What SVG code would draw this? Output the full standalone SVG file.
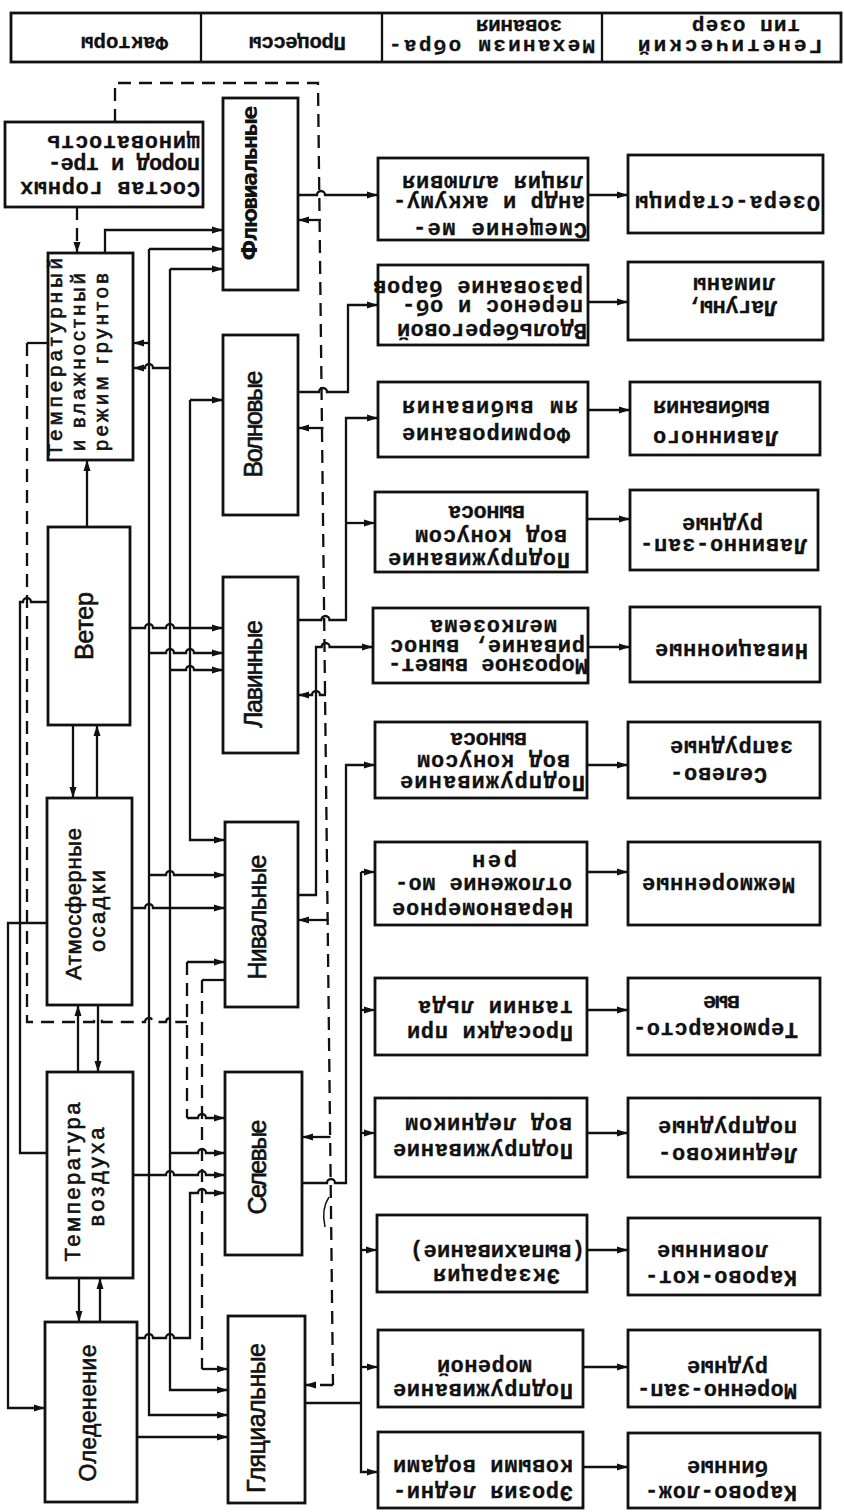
<svg xmlns="http://www.w3.org/2000/svg" width="844" height="1512" viewBox="0 0 844 1512">
<defs>
<marker id="ar" markerUnits="userSpaceOnUse" markerWidth="12" markerHeight="10" refX="11" refY="5" orient="auto">
<path d="M0,1.5 L11,5 L0,8.5 z" fill="#111"/>
</marker>
<style>
.b{fill:#fff;stroke:#111;stroke-width:2.8}
.l{fill:none;stroke:#111;stroke-width:2.3}
.a{fill:none;stroke:#111;stroke-width:2.3;marker-end:url(#ar)}
.d{fill:none;stroke:#111;stroke-width:2.3;stroke-dasharray:13 8}
.da{fill:none;stroke:#111;stroke-width:2.3;stroke-dasharray:13 8;marker-end:url(#ar)}
.t{font-family:"Liberation Mono","DejaVu Sans Mono",monospace;font-size:22px;font-weight:bold;fill:#111;stroke:#111;stroke-width:0.3}
.h{font-size:21px}
.v{font-family:"Liberation Sans","DejaVu Sans",sans-serif;fill:#111;stroke:#111;stroke-width:0.6;text-anchor:middle}
.vb{font-family:"DejaVu Sans","Liberation Sans",sans-serif;font-weight:bold;fill:#111;text-anchor:middle}
</style>
</defs>
<rect width="844" height="1512" fill="#fff"/>

<g id="header">
<rect x="11" y="13" width="830" height="49" class="b"/>
<path class="l" d="M201,13 V62 M382,13 V62 M602,13 V62"/>
<text class="t h" textLength="87" transform="translate(168,36.5) rotate(180)">Факторы</text>
<text class="t h" textLength="97" transform="translate(346,36.5) rotate(180)">Процессы</text>
<text class="t h" textLength="206" transform="translate(595,39.5) rotate(180)">Механизм обра-</text>
<text class="t h" textLength="86" transform="translate(562,20.4) rotate(180)">зования</text>
<text class="t h" textLength="184" transform="translate(822,39.5) rotate(180)">Генетический</text>
<text class="t h" textLength="108" transform="translate(800,20.4) rotate(180)">тип озер</text>
</g>

<g id="connectors">
<!-- factor column -->
<path class="a" d="M87,527 V460"/>
<path class="a" d="M73,725 V798"/>
<path class="a" d="M97,798 V725"/>
<path class="a" d="M78,1072 V1005"/>
<path class="a" d="M98,1005 V1072"/>
<path class="a" d="M79,1278 V1322"/>
<path class="a" d="M100,1322 V1278"/>
<path class="a" d="M105,253 V230 H223"/>
<path class="a" d="M47,923 H8 V1408 H45"/>
<path class="l" d="M47,1153 H20 V602 H23 a4,4 0 0 1 8,0 H48"/>
<!-- bus A: air temperature -->
<path class="a" d="M149,249 V1415 H228"/>
<path class="a" d="M149,249 H223"/>
<path class="a" d="M149,343 H133"/>
<path class="a" d="M149,653 H166 a4,4 0 0 1 8,0 H186 a4,4 0 0 1 8,0 H223"/>
<path class="a" d="M149,875 H166 a4,4 0 0 1 8,0 H225"/>
<path class="a" d="M133,1175 H166 a4,4 0 0 1 8,0 H198 a4,4 0 0 1 8,0 H225"/>
<!-- bus B: precipitation -->
<path class="a" d="M170,269 V1390 H228"/>
<path class="a" d="M170,269 H223"/>
<path class="a" d="M170,368 H153 a4,4 0 0 0 -8,0 H133"/>
<path class="a" d="M170,670 H186 a4,4 0 0 1 8,0 H223"/>
<path class="a" d="M132,908 H145 a4,4 0 0 1 8,0 H225"/>
<path class="a" d="M170,1153 H198 a4,4 0 0 1 8,0 H225"/>
<!-- bus C: wind -->
<path class="a" d="M190,400 V840 H225"/>
<path class="a" d="M190,400 H223"/>
<path class="a" d="M130,628 H145 a4,4 0 0 1 8,0 H166 a4,4 0 0 1 8,0 H223"/>
<!-- glaciation -->
<path class="a" d="M137,1338 H145 a4,4 0 0 1 8,0 H166 a4,4 0 0 1 8,0 H190 V1193 H198 a4,4 0 0 1 8,0 H225"/>
<path class="a" d="M137,1437 H228"/>
<!-- dashed: rock composition -->
<path class="da" d="M77,207 V253"/>
<path class="d" d="M115,122 V83 H318 L333,1385"/>
<path class="da" d="M333,1385 H305"/>
<path class="a" d="M321,220 H298"/>
<path class="a" d="M323.5,428 H298"/>
<path class="a" d="M326,695 H320 a4,4 0 0 0 -8,0 H298"/>
<path class="a" d="M328.4,920 H298"/>
<path class="a" d="M330.5,1137 H302"/>
<!-- dashed: soil regime -->
<path class="l" d="M48,343 H27"/>
<path class="d" d="M27,343 V1022 H94 a4,4 0 0 1 8,0 H145 a4,4 0 0 1 8,0 H166 a4,4 0 0 1 8,0 H187"/>
<path class="d" d="M187,962 V1118"/>
<path class="a" d="M187,962 H225"/>
<path class="a" d="M187,1118 H198 a4,4 0 0 1 8,0 H225"/>
<!-- dashed: nival to glacial -->
<path class="l" d="M225,980 H202"/>
<path class="d" d="M202,980 V1369"/>
<path class="a" d="M202,1369 H228"/>
<!-- process outputs -->
<path class="a" d="M298,195 H317 a4,4 0 0 1 8,0 H378"/>
<path class="a" d="M298,392 H319 a4,4 0 0 1 8,0 H348 V305 H378"/>
<path class="a" d="M298,620 H321.4 a4,4 0 0 1 8,0 H346 V418 H378"/>
<path class="a" d="M346,523 H375"/>
<path class="a" d="M298,895 H316 V647 H321.6 a4,4 0 0 1 8,0 H373"/>
<path class="a" d="M302,1183 H327 a4,4 0 0 1 8,0 H346 V765 H375"/>
<path class="l" d="M305,1403 H361"/>
<path class="a" d="M361,872 V1472 H378"/>
<path class="a" d="M361,872 H375"/>
<path class="a" d="M361,1010 H375"/>
<path class="a" d="M361,1133 H375"/>
<path class="a" d="M361,1250 H377"/>
<path class="a" d="M361,1367 H378"/>
<path fill="none" stroke="#111" stroke-width="1.5" d="M329,1197 q-8,12 -4,30"/>
<!-- mechanism to type -->
<path class="a" d="M588,195 H628"/>
<path class="a" d="M588,302 H628"/>
<path class="a" d="M588,410 H630"/>
<path class="a" d="M587,519 H630"/>
<path class="a" d="M588,647 H630"/>
<path class="a" d="M587,765 H628"/>
<path class="a" d="M587,872 H628"/>
<path class="a" d="M587,1010 H628"/>
<path class="a" d="M587,1133 H628"/>
<path class="a" d="M587,1250 H628"/>
<path class="a" d="M583,1367 H628"/>
<path class="a" d="M583,1467 H628"/>
</g>

<!-- factors -->
<g id="f-sostav">
<rect x="5" y="122" width="198" height="85" class="b"/>
<text class="t" textLength="153" transform="translate(200,136) rotate(180)">щиноватость</text>
<text class="t" textLength="152" transform="translate(200,158) rotate(180)">пород и тре-</text>
<text class="t" textLength="180" transform="translate(200,182) rotate(180)">Состав горных</text>
</g>
<g id="f-temp-soil">
<rect x="48" y="253" width="85" height="207" class="b"/>
<text class="v" font-size="20" textLength="198" transform="translate(62,357) rotate(-90)">Температурный</text>
<text class="v" font-size="20" textLength="178" transform="translate(85,362) rotate(-90)">и влажностный</text>
<text class="v" font-size="20" textLength="178" transform="translate(108,362) rotate(-90)">режим грунтов</text>
</g>
<g id="f-veter">
<rect x="48" y="527" width="82" height="198" class="b"/>
<text class="v" font-size="25" textLength="68" transform="translate(93,626) rotate(-90)">Ветер</text>
</g>
<g id="f-osadki">
<rect x="47" y="798" width="85" height="207" class="b"/>
<text class="v" font-size="22" textLength="152" transform="translate(81,904) rotate(-90)">Атмосферные</text>
<text class="v" font-size="22" textLength="82" transform="translate(105,911) rotate(-90)">осадки</text>
</g>
<g id="f-temp-air">
<rect x="47" y="1072" width="86" height="206" class="b"/>
<text class="v" font-size="22" textLength="159" transform="translate(80,1182) rotate(-90)">Температура</text>
<text class="v" font-size="22" textLength="99" transform="translate(104,1177) rotate(-90)">воздуха</text>
</g>
<g id="f-oled">
<rect x="45" y="1322" width="92" height="180" class="b"/>
<text class="v" font-size="23" textLength="137" transform="translate(96,1413) rotate(-90)">Оледенение</text>
</g>

<!-- processes -->
<g id="p-fluv">
<rect x="223" y="98" width="75" height="192" class="b"/>
<text class="vb" font-size="21" textLength="155" transform="translate(257,183) rotate(-90)">Флювиальные</text>
</g>
<g id="p-voln">
<rect x="223" y="335" width="75" height="180" class="b"/>
<text class="v" font-size="25" textLength="107" transform="translate(262,424) rotate(-90)">Волновые</text>
</g>
<g id="p-lav">
<rect x="223" y="577" width="75" height="176" class="b"/>
<text class="v" font-size="25" textLength="108" transform="translate(262,674) rotate(-90)">Лавинные</text>
</g>
<g id="p-niv">
<rect x="225" y="822" width="73" height="185" class="b"/>
<text class="v" font-size="25" textLength="125" transform="translate(266,917) rotate(-90)">Нивальные</text>
</g>
<g id="p-sel">
<rect x="225" y="1072" width="77" height="183" class="b"/>
<text class="v" font-size="25" textLength="95" transform="translate(266,1167) rotate(-90)">Селевые</text>
</g>
<g id="p-glac">
<rect x="228" y="1316" width="77" height="187" class="b"/>
<text class="v" font-size="25" textLength="150" transform="translate(265,1418) rotate(-90)">Гляциальные</text>
</g>

<!-- mechanisms -->
<g id="m1">
<rect x="378" y="158" width="210" height="82" class="b"/>
<text class="t" textLength="181" transform="translate(583,176.4) rotate(180)">ляция аллювия</text>
<text class="t" textLength="192" transform="translate(585,196.4) rotate(180)">андр и аккуму-</text>
<text class="t" textLength="174" transform="translate(587,222.5) rotate(180)">Смещение ме-</text>
</g>
<g id="m2">
<rect x="378" y="265" width="210" height="80" class="b"/>
<text class="t" textLength="210" transform="translate(583,281.4) rotate(180)">разование баров</text>
<text class="t" textLength="181" transform="translate(583,300.4) rotate(180)">перенос и об-</text>
<text class="t" textLength="190" transform="translate(587,323.5) rotate(180)">Вдольбереговой</text>
</g>
<g id="m3">
<rect x="378" y="382" width="210" height="75" class="b"/>
<text class="t" textLength="176" transform="translate(578,401.4) rotate(180)">ям выбивания</text>
<text class="t" textLength="168" transform="translate(570,427.5) rotate(180)">Формирование</text>
</g>
<g id="m4">
<rect x="375" y="492" width="212" height="80" class="b"/>
<text class="t" textLength="77" transform="translate(525,506.4) rotate(180)">выноса</text>
<text class="t" textLength="152" transform="translate(567,530.4) rotate(180)">вод конусом</text>
<text class="t" textLength="182" transform="translate(570,552.5) rotate(180)">Подпруживание</text>
</g>
<g id="m5">
<rect x="373" y="608" width="215" height="75" class="b"/>
<text class="t" textLength="127" transform="translate(557,620.4) rotate(180)">мелкозема</text>
<text class="t" textLength="195" transform="translate(585,640.4) rotate(180)">ривание, вынос</text>
<text class="t" textLength="200" transform="translate(588,658.5) rotate(180)">Морозное вывет-</text>
</g>
<g id="m6">
<rect x="375" y="722" width="212" height="76" class="b"/>
<text class="t" textLength="77" transform="translate(527,733.4) rotate(180)">выноса</text>
<text class="t" textLength="153" transform="translate(570,755.4) rotate(180)">вод конусом</text>
<text class="t" textLength="185" transform="translate(585,775.5) rotate(180)">Подпруживание</text>
</g>
<g id="m7">
<rect x="375" y="842" width="212" height="83" class="b"/>
<text class="t" textLength="45" transform="translate(517,855.4) rotate(180)">рен</text>
<text class="t" textLength="177" transform="translate(572,878.4) rotate(180)">отложение мо-</text>
<text class="t" textLength="181" transform="translate(573,902.5) rotate(180)">Неравномерное</text>
</g>
<g id="m8">
<rect x="375" y="978" width="212" height="77" class="b"/>
<text class="t" textLength="155" transform="translate(573,1001.4) rotate(180)">таянии льда</text>
<text class="t" textLength="166" transform="translate(573,1025.5) rotate(180)">Просадки при</text>
</g>
<g id="m9">
<rect x="375" y="1098" width="212" height="79" class="b"/>
<text class="t" textLength="167" transform="translate(572,1118.4) rotate(180)">вод ледником</text>
<text class="t" textLength="180" transform="translate(573,1143.5) rotate(180)">Подпруживание</text>
</g>
<g id="m10">
<rect x="377" y="1215" width="210" height="77" class="b"/>
<text class="t" textLength="175" transform="translate(585,1245.4) rotate(180)">(выпахивание)</text>
<text class="t" textLength="127" transform="translate(560,1268.5) rotate(180)">Экзарация</text>
</g>
<g id="m11">
<rect x="378" y="1330" width="205" height="77" class="b"/>
<text class="t" textLength="95" transform="translate(532,1360.4) rotate(180)">мореной</text>
<text class="t" textLength="180" transform="translate(573,1383.5) rotate(180)">Подпруживание</text>
</g>
<g id="m12">
<rect x="378" y="1432" width="205" height="76" class="b"/>
<text class="t" textLength="180" transform="translate(573,1460.4) rotate(180)">ковыми водами</text>
<text class="t" textLength="180" transform="translate(573,1485.5) rotate(180)">Эрозия ледни-</text>
</g>

<!-- genetic types -->
<g id="t1">
<rect x="628" y="155" width="195" height="78" class="b"/>
<text class="t" textLength="185" transform="translate(820,195.5) rotate(180)">Озера-старицы</text>
</g>
<g id="t2">
<rect x="628" y="262" width="195" height="78" class="b"/>
<text class="t" textLength="82" transform="translate(775,278.4) rotate(180)">лиманы</text>
<text class="t" textLength="90" transform="translate(777,300.5) rotate(180)">Лагуны,</text>
</g>
<g id="t3">
<rect x="630" y="382" width="190" height="73" class="b"/>
<text class="t" textLength="117" transform="translate(770,401.4) rotate(180)">выбивания</text>
<text class="t" textLength="125" transform="translate(778,430.5) rotate(180)">Лавинного</text>
</g>
<g id="t4">
<rect x="630" y="490" width="188" height="80" class="b"/>
<text class="t" textLength="81" transform="translate(763,518.4) rotate(180)">рудные</text>
<text class="t" textLength="167" transform="translate(807,538.5) rotate(180)">Лавинно-зап-</text>
</g>
<g id="t5">
<rect x="630" y="607" width="190" height="75" class="b"/>
<text class="t" textLength="153" transform="translate(808,643.5) rotate(180)">Нивационные</text>
</g>
<g id="t6">
<rect x="628" y="722" width="192" height="76" class="b"/>
<text class="t" textLength="123" transform="translate(793,741.4) rotate(180)">запрудные</text>
<text class="t" textLength="97" transform="translate(767,767.5) rotate(180)">Селево-</text>
</g>
<g id="t7">
<rect x="628" y="842" width="192" height="83" class="b"/>
<text class="t" textLength="153" transform="translate(795,877.5) rotate(180)">Межморенные</text>
</g>
<g id="t8">
<rect x="628" y="978" width="192" height="77" class="b"/>
<text class="t" textLength="37" transform="translate(740,996.4) rotate(180)">вые</text>
<text class="t" textLength="165" transform="translate(798,1022.5) rotate(180)">Термокарсто-</text>
</g>
<g id="t9">
<rect x="628" y="1098" width="192" height="79" class="b"/>
<text class="t" textLength="139" transform="translate(797,1121.4) rotate(180)">подпрудные</text>
<text class="t" textLength="139" transform="translate(797,1147.5) rotate(180)">Ледниково-</text>
</g>
<g id="t10">
<rect x="628" y="1218" width="192" height="77" class="b"/>
<text class="t" textLength="111" transform="translate(768,1245.4) rotate(180)">ловинные</text>
<text class="t" textLength="152" transform="translate(797,1270.5) rotate(180)">Карово-кот-</text>
</g>
<g id="t11">
<rect x="628" y="1330" width="192" height="77" class="b"/>
<text class="t" textLength="81" transform="translate(768,1361.4) rotate(180)">рудные</text>
<text class="t" textLength="160" transform="translate(797,1383.5) rotate(180)">Моренно-зап-</text>
</g>
<g id="t12">
<rect x="628" y="1433" width="192" height="75" class="b"/>
<text class="t" textLength="81" transform="translate(768,1461.4) rotate(180)">бинные</text>
<text class="t" textLength="152" transform="translate(797,1485.5) rotate(180)">Карово-лож-</text>
</g>
</svg>
